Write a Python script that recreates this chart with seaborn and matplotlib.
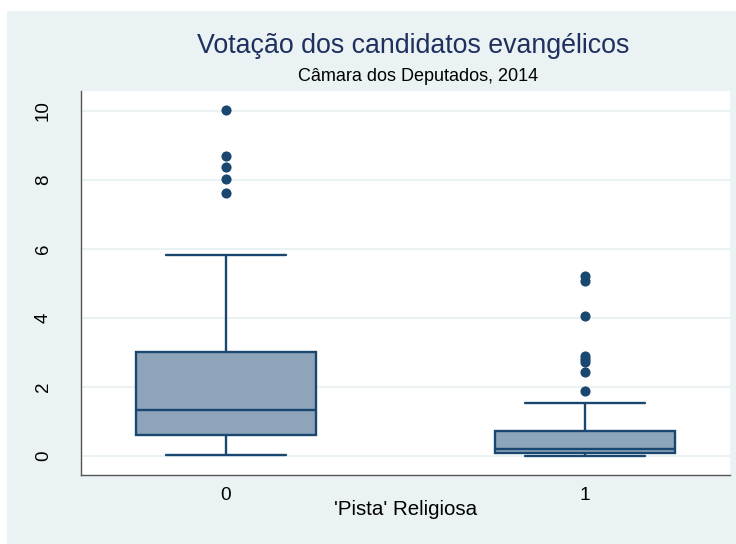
import numpy as np
import pandas as pd
import matplotlib.pyplot as plt
import seaborn as sns
from matplotlib.patches import Rectangle

# box summaries (votes, in % of the district)
groups = ["0", "1"]
whisker_low = [0.02, 0.0]
q1 = [0.60, 0.07]
median = [1.32, 0.20]
q3 = [3.00, 0.71]
whisker_high = [5.82, 1.54]
outliers = {
    "0": [7.62, 8.01, 8.36, 8.70, 10.02],
    "1": [1.88, 2.43, 2.72, 2.80, 2.90, 4.05, 5.07, 5.20],
}

navy = "#1A476F"
title_col = "#1F305E"
box_fill = "#8DA4BA"
panel = "#EAF2F3"

# only the summary is visible, so each group is rebuilt from it
rows = []
for i, g in enumerate(groups):
    core = np.repeat([whisker_low[i], q1[i], median[i], q3[i], whisker_high[i]],
                     [1, 10, 10, 10, 1])
    for v in list(core) + outliers[g]:
        rows.append({"pista": g, "votos": v})
df = pd.DataFrame(rows)

sns.set_style("white")
plt.rcParams["font.family"] = ["Liberation Sans", "DejaVu Sans"]

fig = plt.figure(figsize=(7.36, 5.44), dpi=100, facecolor="white")
fig.patches.append(Rectangle((7 / 736, 0), 1, 1 - 11 / 544, transform=fig.transFigure,
                             facecolor=panel, edgecolor="none", zorder=-1))
ax = fig.add_axes([81 / 736, 1 - 475 / 544, 649 / 736, 384 / 544])
ax.set_facecolor("white")

sns.boxplot(data=df, x="pista", y="votos", order=groups, ax=ax,
            color=box_fill, saturation=1, linecolor=navy, linewidth=1.7,
            width=0.5, capwidths=0.333,
            flierprops=dict(marker="o", markersize=7.3, markerfacecolor=navy,
                            markeredgecolor=navy, markeredgewidth=0))

ax.set_xlim(-0.403, 1.403)
ax.set_ylim(-0.56, 10.57)
ax.set_yticks([0, 2, 4, 6, 8, 10])
ax.yaxis.grid(True, color=panel, linewidth=1.5)
ax.set_axisbelow(True)
for side in ["top", "right"]:
    ax.spines[side].set_visible(False)
for side in ["left", "bottom"]:
    ax.spines[side].set_color("#555555")
    ax.spines[side].set_linewidth(1.0)

ax.tick_params(axis="y", length=6, width=1, color="#555555", pad=15,
               labelsize=13.5, labelcolor="black", labelrotation=90)
ax.tick_params(axis="x", length=0, pad=8.5, labelsize=13.8, labelcolor="black")
for lab in ax.get_yticklabels():
    lab.set_verticalalignment("center")
ax.set_xlabel("'Pista' Religiosa", fontsize=14.8, color="black", labelpad=-2.5)
ax.set_ylabel("")

fig.text(0.562, 1 - 53 / 544, "Votação dos candidatos evangélicos", ha="center",
         va="baseline", fontsize=19.3, color=title_col)
fig.text(0.568, 1 - 81 / 544, "Câmara dos Deputados, 2014", ha="center",
         va="baseline", fontsize=13, color="black")

fig.savefig("out.png", dpi=100, facecolor="white")
